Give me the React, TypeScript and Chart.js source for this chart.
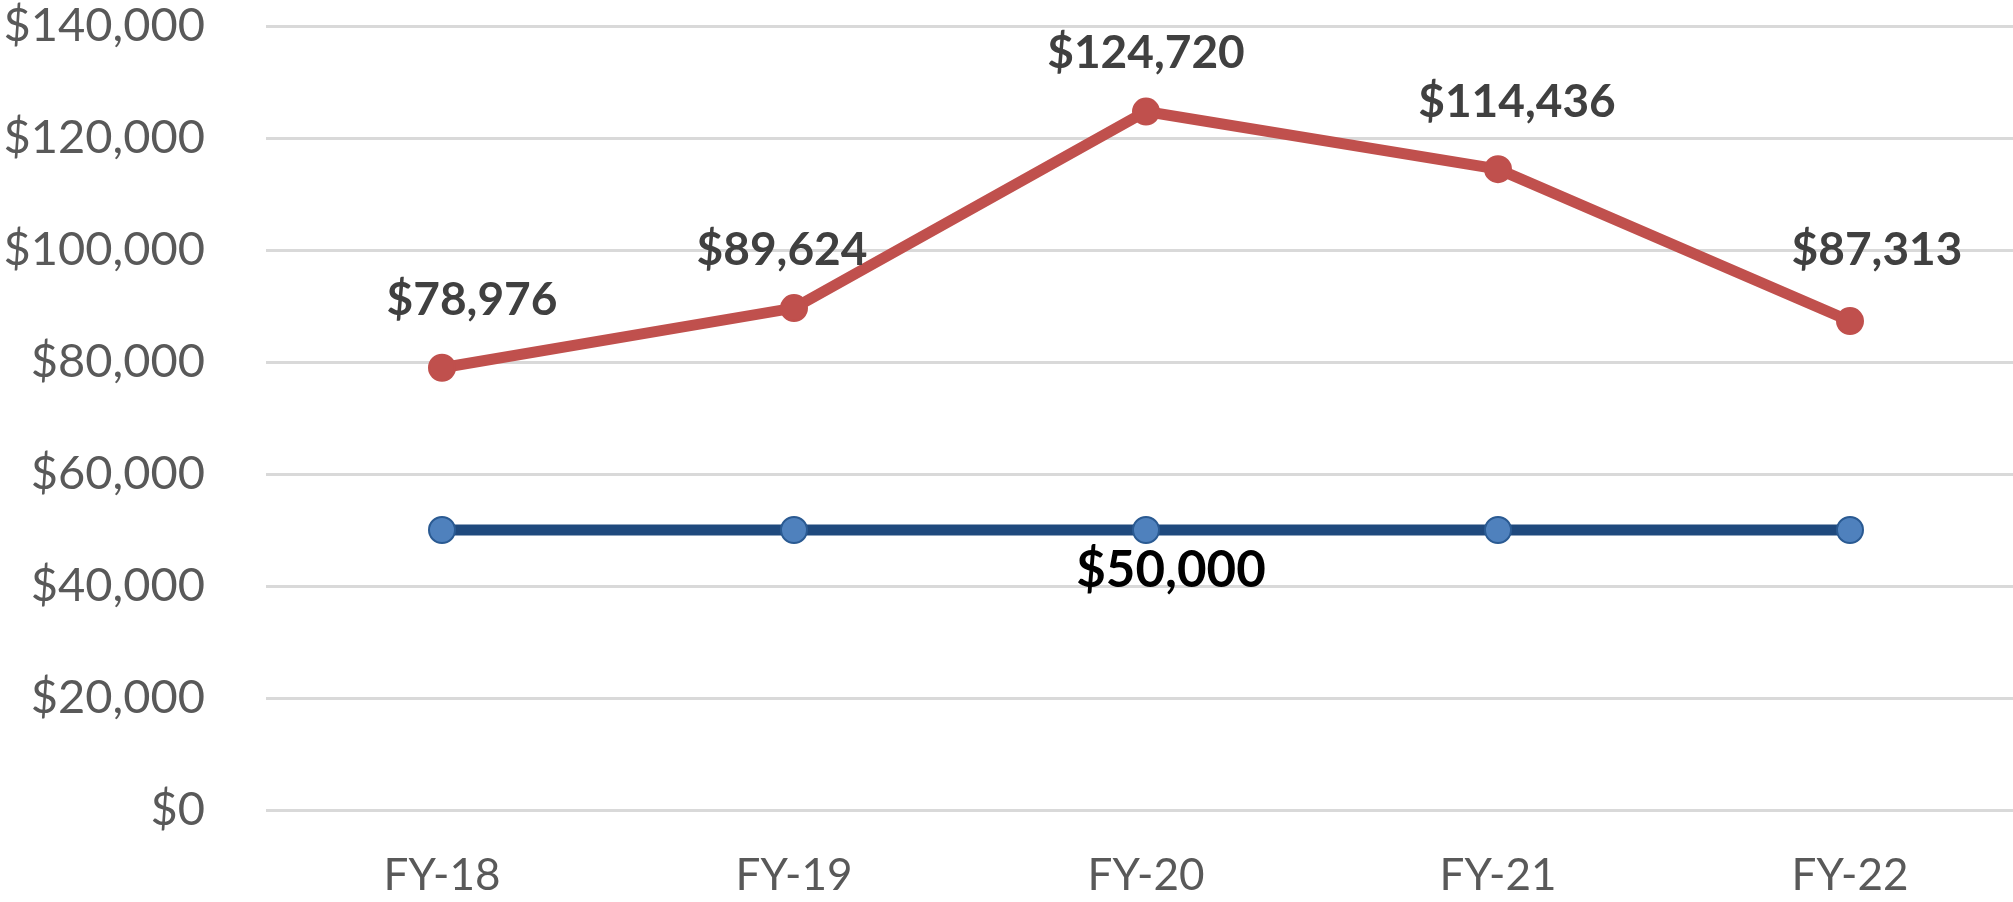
import React, { useEffect, useRef } from "react";
import { Chart, registerables } from "chart.js";

Chart.register(...registerables);

const categories = ["FY-18", "FY-19", "FY-20", "FY-21", "FY-22"];
const actualValues = [78976, 89624, 124720, 114436, 87313];
const targetValues = [50000, 50000, 50000, 50000, 50000];
const yMin = 0;
const yMax = 140000;
const yStep = 20000;

// label nudges relative to each point (px): [dx, dy]; null = no label
const actualLabelOffsets: ([number, number] | null)[] = [
  [30, -69],
  [-12, -60],
  [0, -60],
  [19, -69],
  [27, -73],
];
const targetLabelOffsets: ([number, number] | null)[] = [null, null, [25, 39], null, null];

const fmt = (v: number) => "$" + v.toLocaleString("en-US");

const valueLabelsPlugin = {
  id: "valueLabels",
  afterDatasetsDraw(chart: any) {
    const ctx = chart.ctx;
    chart.data.datasets.forEach((ds: any, di: number) => {
      const cfg = ds.valueLabels;
      if (!cfg) return;
      const meta = chart.getDatasetMeta(di);
      meta.data.forEach((pt: any, i: number) => {
        const off = cfg.offsets[i];
        if (!off) return;
        ctx.save();
        ctx.font = `bold ${cfg.size}px Lato`;
        ctx.fillStyle = cfg.color;
        ctx.textAlign = "center";
        ctx.textBaseline = "alphabetic";
        ctx.fillText(fmt(ds.data[i]), pt.x + off[0], pt.y + off[1] + 0.36 * cfg.size);
        ctx.restore();
      });
    });
  },
};

export default function App() {
  const ref = useRef<HTMLCanvasElement>(null);

  useEffect(() => {
    document.body.style.margin = "0";
    const canvas = ref.current!;
    const chart = new Chart(canvas, {
      type: "line",
      data: {
        labels: categories,
        datasets: [
          {
            label: "Actual",
            data: actualValues,
            borderColor: "#C0504D",
            backgroundColor: "#C0504D",
            borderWidth: 11,
            pointRadius: 13,
            pointBorderWidth: 2,
            pointBackgroundColor: "#C0504D",
            pointBorderColor: "#C0504D",
            tension: 0,
            valueLabels: { offsets: actualLabelOffsets, color: "#404040", size: 46 },
          } as any,
          {
            label: "Target",
            data: targetValues,
            borderColor: "#1F497D",
            backgroundColor: "#4F81BD",
            borderWidth: 11,
            pointRadius: 13,
            pointBorderWidth: 2,
            pointBackgroundColor: "#4F81BD",
            pointBorderColor: "#2A5A92",
            tension: 0,
            valueLabels: { offsets: targetLabelOffsets, color: "#000000", size: 51 },
          } as any,
        ],
      },
      options: {
        animation: false,
        responsive: false,
        devicePixelRatio: 1,
        layout: { autoPadding: false, padding: { top: 26, left: 0, right: 4, bottom: 0 } },
        plugins: {
          legend: { display: false },
          tooltip: { enabled: false },
          title: { display: false },
        },
        scales: {
          x: {
            type: "category",
            offset: true,
            grid: { display: false, drawTicks: false },
            border: { display: false },
            ticks: {
              color: "#595959",
              font: { family: "Lato", size: 44, lineHeight: 1 },
              padding: 44,
              maxRotation: 0,
            },
            afterFit(scale: any) {
              scale.height = 92;
              scale.paddingLeft = 0;
              scale.paddingRight = 0;
            },
          },
          y: {
            min: yMin,
            max: yMax,
            grid: { color: "#D9D9D9", lineWidth: 3, drawTicks: false },
            border: { display: false },
            ticks: {
              stepSize: yStep,
              color: "#595959",
              font: { family: "Lato", size: 47, lineHeight: 1 },
              padding: 61,
              callback: (v: any) => fmt(Number(v)),
            },
            afterFit(scale: any) {
              scale.width = 266;
              scale.paddingTop = 0;
              scale.paddingBottom = 0;
            },
          },
        },
      },
      plugins: [valueLabelsPlugin],
    });
    return () => chart.destroy();
  }, []);

  return (
    <div style={{ width: 2013, height: 902, overflow: "hidden", background: "#fff" }}>
      <canvas ref={ref} width={2030} height={902} style={{ display: "block" }} />
    </div>
  );
}
